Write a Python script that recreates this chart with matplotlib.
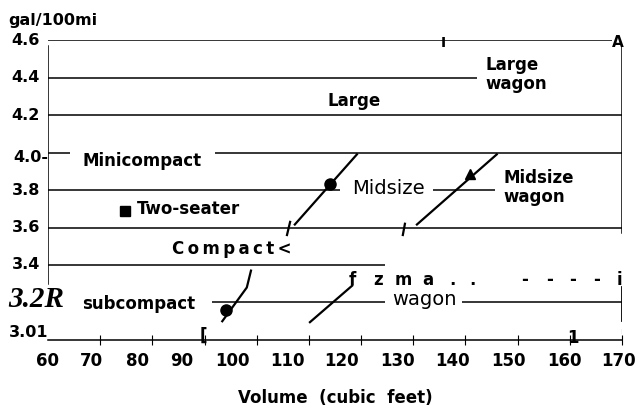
import matplotlib
matplotlib.use("Agg")
import matplotlib.pyplot as plt
from matplotlib.ticker import FixedLocator

# horizontal rules: level (gal/100mi), start and end (cubic feet)
rule_y = [4.6, 4.4, 4.2, 4.0, 4.0, 3.8, 3.8, 3.6, 3.4, 3.2, 3.2]
rule_x0 = [60, 60, 60, 60, 92.0, 60, 133.8, 60, 60, 91.4, 139.3]
rule_x1 = [168.1, 142.2, 170, 64.2, 170, 116.0, 145.7, 170, 124.6, 124.6, 170]

# slanted class boundaries
subcompact_x = [93.4, 98.1, 98.9]
subcompact_y = [3.10, 3.28, 3.37]
small_wagon_x = [110.2, 118.3]
small_wagon_y = [3.095, 3.29]
midsize_x = [107.3, 119.2]
midsize_y = [3.616, 3.99]
midsize_wagon_x = [130.7, 146.0]
midsize_wagon_y = [3.616, 3.99]
tick_marks = [([105.8, 106.4], [3.56, 3.63]), ([128.0, 128.4], [3.56, 3.62])]

# class points
dot_x = [94.1, 114.0]
dot_y = [3.16, 3.83]
two_seater = (74.8, 3.69)
midsize_wagon_pt = (140.9, 3.885)

x_ticks = [70, 80, 90, 100, 110, 120, 130, 140, 150, 160, 170]
x_labels = ["60", "70", "80", "90", "100", "110", "120", "130", "140", "150", "160", "170"]
x_label_pos = [60, 68.4, 77.1, 85.7, 95.3, 105.8, 116.3, 127.0, 137.6, 148.3, 159.0, 169.4]
y_labels = ["4.6", "4.4", "4.2", "4.0-", "3.8", "3.6", "3.4", "3.01"]
y_label_pos = [4.6, 4.4, 4.2, 3.975, 3.8, 3.6, 3.4, 3.04]

fig = plt.figure(figsize=(6.39, 4.12), dpi=100)
ax = fig.add_axes([0.0751, 0.1748, 0.8983, 0.728])
ax.set_xlim(60, 170)
ax.set_ylim(3.0, 4.6)

for y, a, b in zip(rule_y, rule_x0, rule_x1):
    ax.plot([a, b], [y, y], color="black", lw=1.1, solid_capstyle="butt")

# frame pieces
ax.plot([60, 60], [4.57, 3.30], color="black", lw=1.1)
ax.plot([170, 170], [4.57, 3.57], color="black", lw=1.1)
ax.plot([170, 170], [3.283, 3.105], color="black", lw=2.0)
ax.plot([170, 170], [3.06, 3.035], color="black", lw=0.8)

for xs, ys in [(subcompact_x, subcompact_y), (small_wagon_x, small_wagon_y),
               (midsize_x, midsize_y), (midsize_wagon_x, midsize_wagon_y)] + tick_marks:
    ax.plot(xs, ys, color="black", lw=1.6)

ax.plot(dot_x, dot_y, "o", color="black", ms=8, ls="none")
ax.plot(*two_seater, "s", color="black", ms=6.5)
ax.plot(*midsize_wagon_pt, "^", color="black", ms=7)

bold = dict(fontsize=12, fontweight="bold", color="black")
ax.text(118.6, 4.277, "Large", ha="center", va="center", **bold)
ax.text(143.9, 4.417, "Large\nwagon", ha="left", va="center", linespacing=1.05, **bold)
ax.text(78.0, 3.955, "Minicompact", ha="center", va="center", **bold)
ax.text(125.2, 3.81, "Midsize", ha="center", va="center", fontsize=14, color="black")
ax.text(147.2, 3.815, "Midsize\nwagon", ha="left", va="center", linespacing=1.05, **bold)
ax.text(77.1, 3.697, "Two-seater", ha="left", va="center", **bold)
ax.text(83.8, 3.487, "\u2009".join("Compact<"), ha="left", va="center", fontsize=12,
        fontweight="bold", color="black")
ax.text(66.5, 3.191, "subcompact", ha="left", va="center", **bold)
ax.text(125.9, 3.218, "wagon", ha="left", va="center", fontsize=14, color="black")

# stray scanned characters
for ch, xc in zip(["f", "z", "m", "a", ".", ".", "-", "-", "-", "-", "i"],
                  [118.3, 123.2, 128.0, 132.8, 137.6, 141.4, 151.4, 156.2, 160.6, 165.2, 169.6]):
    ax.text(xc, 3.32, ch, ha="center", va="center", **bold)
ax.text(169.2, 4.585, "A", ha="center", va="center", fontsize=11, fontweight="bold")
ax.text(135.7, 4.585, "I", ha="center", va="center", fontsize=10, fontweight="bold")
ax.text(89.7, 3.02, "[", ha="center", va="center", fontsize=12, fontweight="bold")
ax.text(160.6, 3.01, "1", ha="center", va="center", fontsize=12, fontweight="bold")

# y labels
ytr = ax.get_yaxis_transform()
for lab, yv in zip(y_labels, y_label_pos):
    xr = 0.0 if lab in ("4.0-", "3.01") else -0.014
    ax.text(xr, yv, lab, transform=ytr, ha="right", va="center",
            fontsize=11.5, fontweight="bold", clip_on=False)
ax.text(52.4, 3.218, "3.2R", ha="left", va="center", fontsize=21,
        family="Liberation Serif", style="italic", fontweight="bold", clip_on=False)

# x axis
for s in ["left", "right", "top"]:
    ax.spines[s].set_visible(False)
ax.spines["bottom"].set_linewidth(1.1)
ax.set_yticks([])
ax.xaxis.set_major_locator(FixedLocator(x_ticks))
ax.xaxis.set_minor_locator(FixedLocator(x_label_pos))
ax.tick_params(axis="x", which="major", direction="inout", length=7, width=0.8, labelbottom=False)
ax.tick_params(axis="x", which="minor", length=0, pad=9, labelsize=12)
ax.set_xticks(x_label_pos, x_labels, minor=True, fontweight="bold")
ax.set_xlabel("Volume  (cubic  feet)", fontsize=12, fontweight="bold", labelpad=13)

fig.text(8 / 639, 1 - 20 / 412, "gal/100mi", ha="left", va="center",
         fontsize=11.5, fontweight="bold")

fig.savefig("out.png", dpi=100)
